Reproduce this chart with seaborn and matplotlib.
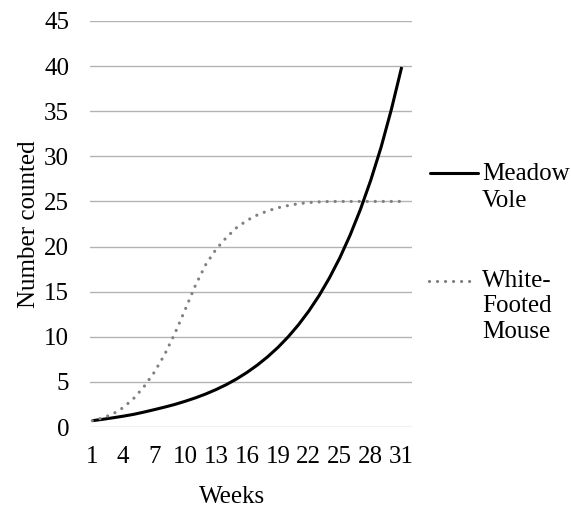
import matplotlib
matplotlib.use("Agg")
import matplotlib.pyplot as plt
from matplotlib.lines import Line2D
import pandas as pd
import seaborn as sns

# ---- data ----
weeks = list(range(1, 32))
meadow_vole = [0.7, 0.85, 1.02, 1.2, 1.4, 1.65, 1.92, 2.2, 2.5, 2.85,
               3.23, 3.66, 4.15, 4.7, 5.33, 6.05, 6.86, 7.78, 8.82, 10.0,
               11.34, 12.86, 14.58, 16.54, 18.75, 21.27, 24.12, 27.35, 31.0, 35.2,
               39.9]
white_footed_mouse = [0.7, 1.0, 1.45, 2.15, 3.15, 4.45, 6.05, 8.0, 10.35, 13.0,
                      15.7, 18.0, 19.7, 21.0, 22.1, 22.9, 23.5, 23.95, 24.3, 24.55,
                      24.75, 24.88, 24.95, 25.0, 25.0, 25.0, 25.0, 25.0, 25.0, 25.0,
                      25.0]
x_ticks = list(range(1, 32, 3))
y_ticks = list(range(0, 50, 5))
series_names = ["Meadow\nVole", "White-\nFooted\nMouse"]

df = pd.DataFrame({"Weeks": weeks, "vole": meadow_vole, "mouse": white_footed_mouse})

sns.set_theme(style="white")
plt.rcParams["font.family"] = ["Liberation Serif", "DejaVu Serif"]

W, H = 571, 508
fig = plt.figure(figsize=(W / 100, H / 100), dpi=100)
ax = fig.add_axes([90 / W, (H - 427) / H, 322 / W, 406 / H])

sns.lineplot(data=df, x="Weeks", y="vole", ax=ax, color="#000000",
             linewidth=2.2, solid_capstyle="butt")
sns.lineplot(data=df, x="Weeks", y="mouse", ax=ax, color="#808080",
             linewidth=2.3, linestyle=(0, (0.01, 2.5)), dash_capstyle="round")

ax.set_xlim(0.777, 32.0)
ax.set_ylim(0, 45)
ax.set_xticks(x_ticks)
ax.set_xticklabels([str(t) for t in x_ticks])
ax.set_yticks(y_ticks)
ax.set_yticklabels([str(t) for t in y_ticks])
ax.grid(axis="y", color="#B3B3B3", linewidth=1.0)
ax.grid(axis="x", visible=False)
ax.set_axisbelow(True)
for s in ax.spines.values():
    s.set_visible(False)
FS = 18
ax.tick_params(axis="both", length=0, labelsize=FS, colors="#000000")
ax.tick_params(axis="x", pad=14)
ax.tick_params(axis="y", pad=15)

ax.set_xlabel("Weeks", fontsize=FS, color="#000000")
ax.set_ylabel("Number counted", fontsize=FS, color="#000000")
ax.xaxis.set_label_coords(0.441, -0.146)
ax.yaxis.set_label_coords(-0.155, 0.5)

# legend (right side)
def fx(px):
    return px / W

def fy(py):
    return 1 - py / H

fig.add_artist(Line2D([fx(430), fx(478)], [fy(173), fy(173)], color="#000000",
                      linewidth=2.2, transform=fig.transFigure))
fig.add_artist(Line2D([fx(429), fx(470)], [fy(281), fy(281)], color="#808080",
                      linewidth=2.3, linestyle=(0, (0.01, 2.5)), dash_capstyle="round",
                      transform=fig.transFigure))
vole_lines = series_names[0].split("\n")
mouse_lines = series_names[1].split("\n")
for i, t in enumerate(vole_lines):
    fig.text(fx(482), fy(174 + i * 27), t, va="center", ha="left", fontsize=FS, color="#000000")
for i, t in enumerate(mouse_lines):
    fig.text(fx(482), fy(281 + i * 25.5), t, va="center", ha="left", fontsize=FS, color="#000000")

fig.savefig("out.png", dpi=100)
